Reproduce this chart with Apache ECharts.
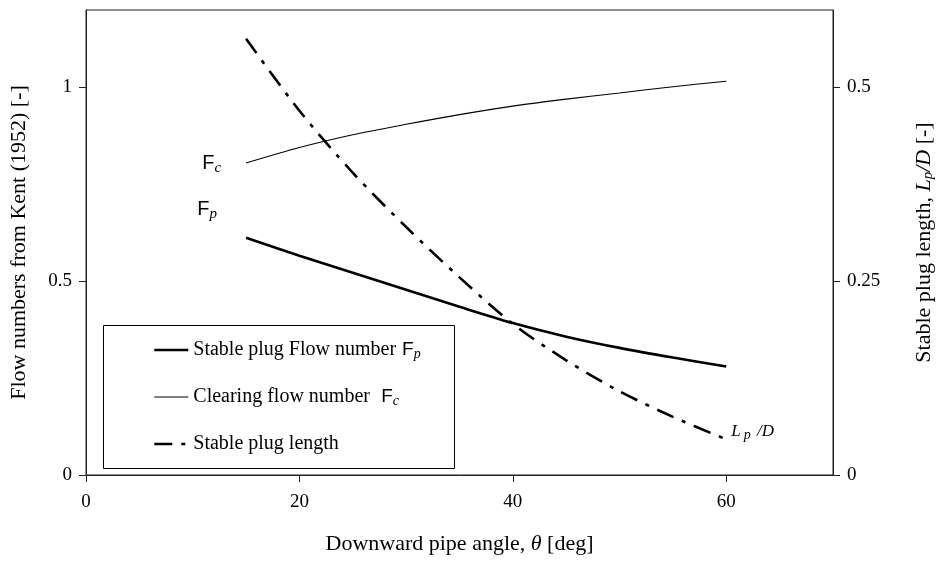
<!DOCTYPE html>
<html><head><meta charset="utf-8">
<script src="https://cdn.jsdelivr.net/npm/echarts@6/dist/echarts.min.js"></script>
<style>html,body{margin:0;padding:0;background:#fff}#c{width:945px;height:563px}</style>
</head><body><div id="c"></div>
<script>
// Data
const angles = [15, 20, 25, 30, 35, 40, 45, 50, 55, 60];
const Fp = [0.612, 0.566, 0.522, 0.478, 0.434, 0.392, 0.357, 0.328, 0.303, 0.280];
const Fc = [0.805, 0.845, 0.878, 0.905, 0.930, 0.952, 0.970, 0.986, 1.002, 1.016];
const LpD = [0.563, 0.470, 0.390, 0.320, 0.255, 0.195, 0.148, 0.108, 0.075, 0.046];
const xTicks = [0, 20, 40, 60];
const yLeftTicks = [0, 0.5, 1];
const yRightTicks = [0, 0.25, 0.5];
const seriesNames = ['Stable plug Flow number', 'Clearing flow number', 'Stable plug length'];

const SERIF = 'Liberation Serif';
const SANS = 'Liberation Sans';
const chart = echarts.init(document.getElementById('c'), null, {renderer: 'canvas'});
const pair = (ys) => angles.map((a, i) => [a, ys[i]]);
const axisLineStyle = {color: '#222', width: 1};
const widths = [2.6, 1.1, 2.6];
const dashDot = [18, 9, 4, 9];

const option = {
  backgroundColor: '#fff',
  animation: false,
  grid: {left: 86, right: 112, top: 10, bottom: 88, show: true, borderColor: '#222', borderWidth: 1, backgroundColor: 'transparent'},
  xAxis: {
    type: 'value', min: 0, max: 70,
    axisLine: {show: true, onZero: false, lineStyle: axisLineStyle},
    axisTick: {show: true, length: 7, customValues: xTicks, lineStyle: axisLineStyle},
    axisLabel: {customValues: xTicks, margin: 18, fontFamily: SERIF, fontSize: 19, color: '#000'},
    splitLine: {show: false},
    name: 'Downward pipe angle, {i|θ} [deg]',
    nameLocation: 'middle', nameGap: 58,
    nameTextStyle: {fontFamily: SERIF, fontSize: 22, color: '#000',
      rich: {i: {fontFamily: SERIF, fontStyle: 'italic', fontSize: 22, color: '#000'}}}
  },
  yAxis: [{
    type: 'value', min: 0, max: 1.2, position: 'left',
    axisLine: {show: true, lineStyle: axisLineStyle},
    axisTick: {show: true, length: 7, customValues: yLeftTicks, lineStyle: axisLineStyle},
    axisLabel: {customValues: yLeftTicks, margin: 14, fontFamily: SERIF, fontSize: 19, color: '#000'},
    splitLine: {show: false},
    name: 'Flow numbers from Kent (1952) [-]',
    nameLocation: 'middle', nameGap: 56, nameRotate: 90,
    nameTextStyle: {fontFamily: SERIF, fontSize: 22, color: '#000'}
  }, {
    type: 'value', min: 0, max: 0.6, position: 'right',
    axisLine: {show: true, lineStyle: axisLineStyle},
    axisTick: {show: true, length: 7, customValues: yRightTicks, lineStyle: axisLineStyle},
    axisLabel: {customValues: yRightTicks, margin: 14, fontFamily: SERIF, fontSize: 19, color: '#000'},
    splitLine: {show: false},
    name: 'Stable plug length, {i|L}{s|p}{i|/D} [-]',
    nameLocation: 'middle', nameGap: 80, nameRotate: 90,
    nameTextStyle: {fontFamily: SERIF, fontSize: 22, color: '#000',
      rich: {
        i: {fontFamily: SERIF, fontStyle: 'italic', fontSize: 22, color: '#000'},
        s: {fontFamily: SERIF, fontStyle: 'italic', fontSize: 15, color: '#000', padding: [8, 0, 0, 0]}
      }}
  }],
  legend: {
    orient: 'vertical', left: 148, top: 334, itemGap: 25, itemWidth: 34, itemHeight: 14,
    itemStyle: {opacity: 0},
    data: [
      {name: seriesNames[0], lineStyle: {width: widths[0]}},
      {name: seriesNames[1], lineStyle: {width: widths[1]}},
      {name: seriesNames[2], lineStyle: {width: widths[2], type: dashDot}}
    ],
    textStyle: {fontFamily: SERIF, fontSize: 20, color: '#000', lineHeight: 22,
      rich: {
        t: {fontFamily: SERIF, fontSize: 20, color: '#000'},
        f: {fontFamily: SANS, fontSize: 19, color: '#000', padding: [0, 0, 0, 6]},
        s: {fontFamily: SERIF, fontStyle: 'italic', fontSize: 14, color: '#000', padding: [8, 0, 0, 0]}
      }},
    formatter: function (name) {
      if (name === seriesNames[0]) return '{t|' + name + '}{f|F}{s|p}';
      if (name === seriesNames[1]) return '{t|' + name + '}{f| F}{s|c}';
      return '{t|' + name + '}';
    }
  },
  graphic: [{
    type: 'rect', left: 101, top: 323, shape: {width: 351, height: 143},
    style: {fill: 'none', stroke: '#000', lineWidth: 1}, z: 100
  }],
  series: [{
    name: seriesNames[0], type: 'line', yAxisIndex: 0, data: pair(Fp), smooth: 0.3,
    symbol: 'none', showSymbol: false,
    lineStyle: {color: '#000', width: widths[0]},
    itemStyle: {color: '#000'},
    markPoint: {symbol: 'circle', symbolSize: 0, silent: true,
      data: [{coord: [angles[0], Fp[0]],
        label: {show: true, position: 'left', offset: [-24, -28], formatter: '{f|F}{s|p}',
          rich: {f: {fontFamily: SANS, fontSize: 20, color: '#000'},
                 s: {fontFamily: SERIF, fontStyle: 'italic', fontSize: 15, color: '#000', padding: [9, 0, 0, 0]}}}}]}
  }, {
    name: seriesNames[1], type: 'line', yAxisIndex: 0, data: pair(Fc), smooth: 0.3,
    symbol: 'none', showSymbol: false,
    lineStyle: {color: '#000', width: widths[1]},
    itemStyle: {color: '#000'},
    markPoint: {symbol: 'circle', symbolSize: 0, silent: true,
      data: [{coord: [angles[0], Fc[0]],
        label: {show: true, position: 'left', offset: [-20, 0], formatter: '{f|F}{s|c}',
          rich: {f: {fontFamily: SANS, fontSize: 20, color: '#000'},
                 s: {fontFamily: SERIF, fontStyle: 'italic', fontSize: 15, color: '#000', padding: [9, 0, 0, 0]}}}}]}
  }, {
    name: seriesNames[2], type: 'line', yAxisIndex: 1, data: pair(LpD), smooth: 0.3,
    symbol: 'none', showSymbol: false,
    lineStyle: {color: '#000', width: widths[2], type: dashDot},
    itemStyle: {color: '#000'},
    markPoint: {symbol: 'circle', symbolSize: 0, silent: true,
      data: [{coord: [angles[angles.length - 1], LpD[LpD.length - 1]],
        label: {show: true, position: 'right', offset: [0, -8], formatter: '{i|L}{s|p}{i| /D}',
          rich: {i: {fontFamily: SERIF, fontStyle: 'italic', fontSize: 17, color: '#000'},
                 s: {fontFamily: SERIF, fontStyle: 'italic', fontSize: 14, color: '#000', padding: [8, 2, 0, 3]}}}}]}
  }]
};
chart.setOption(option);
</script></body></html>
